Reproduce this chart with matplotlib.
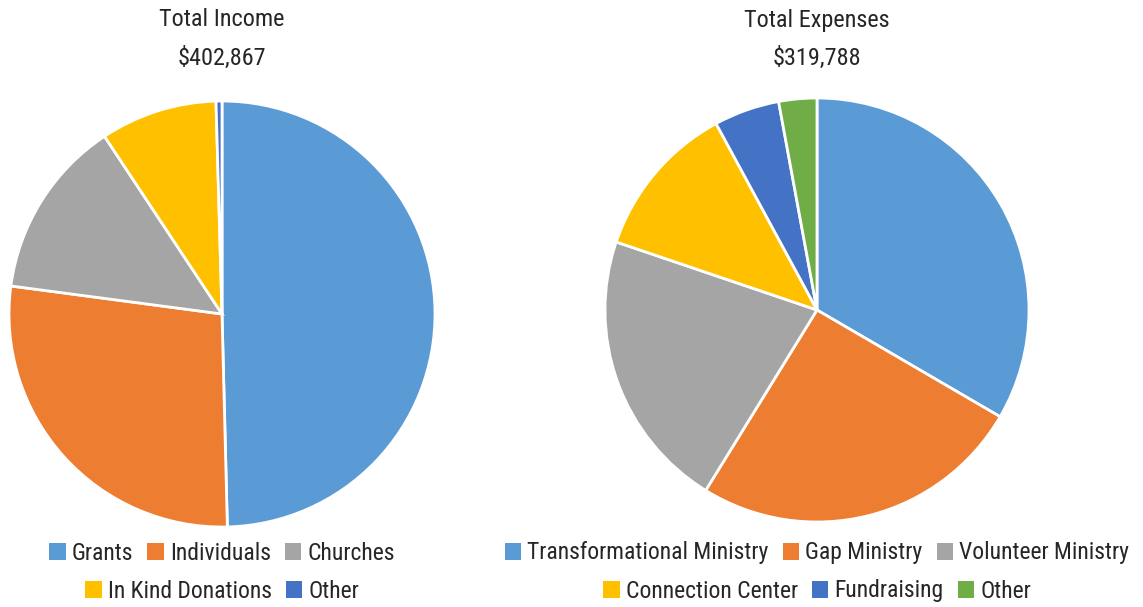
import matplotlib
matplotlib.use("Agg")
import matplotlib.pyplot as plt
from matplotlib.patches import Patch

plt.rcParams['font.family'] = ['Roboto Condensed', 'DejaVu Sans']

income_labels = ["Grants", "Individuals", "Churches", "In Kind Donations", "Other"]
income_values = [49.6, 27.5, 13.6, 8.85, 0.45]
income_total = "$402,867"

expense_labels = ["Transformational Ministry", "Gap Ministry", "Volunteer Ministry",
                  "Connection Center", "Fundraising", "Other"]
expense_values = [33.4, 25.4, 21.4, 11.9, 5.0, 2.9]
expense_total = "$319,788"

colors = ["#5B9BD5", "#ED7D31", "#A5A5A5", "#FFC000", "#4472C4", "#70AD47"]
txt = "#262626"

W, H = 1143, 607
fig = plt.figure(figsize=(W/100, H/100), dpi=100)

def pie_axes(cx, cy, r):
    return fig.add_axes([(cx - r)/W, (H - cy - r)/H, 2*r/W, 2*r/H])

def draw(cx, cy, r, values, labels, title, total, rows):
    ax = pie_axes(cx, cy, r)
    ax.pie(values, colors=colors[:len(values)], startangle=90, counterclock=False,
           wedgeprops=dict(edgecolor="white", linewidth=2))
    ax.set_xlim(-1, 1); ax.set_ylim(-1, 1)
    ax.set_aspect("auto")
    ax.axis("off")
    fig.text(cx/W, 1 - 20/H, title, ha="center", va="center", fontsize=17.5, color=txt)
    fig.text(cx/W, 1 - 58/H, total, ha="center", va="center", fontsize=17.5, color=txt)
    idx = 0
    for ry, n in rows:
        handles = [Patch(facecolor=colors[i], edgecolor="none") for i in range(idx, idx+n)]
        leg = fig.legend(handles, labels[idx:idx+n], loc="center",
                         bbox_to_anchor=(cx/W, 1 - ry/H), ncol=n, frameon=False,
                         fontsize=17, handlelength=0.7, handleheight=0.7,
                         handletextpad=0.25, columnspacing=0.6, borderpad=0)
        for t in leg.get_texts():
            t.set_color(txt)
        idx += n

draw(222, 314, 213, income_values, income_labels, "Total Income", income_total, [(553, 3), (591, 2)])
draw(817, 310, 212, expense_values, expense_labels, "Total Expenses", expense_total, [(553, 3), (591, 3)])

fig.savefig("out.png", dpi=100)
